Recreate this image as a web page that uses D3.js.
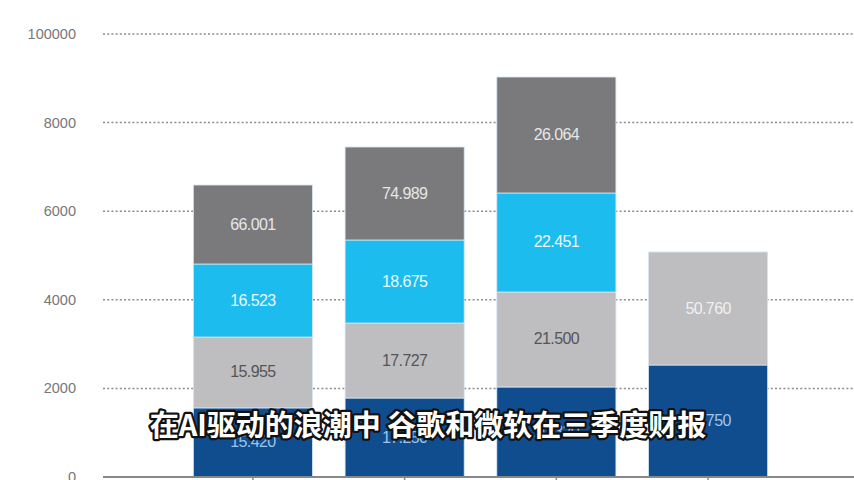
<!DOCTYPE html>
<html>
<head>
<meta charset="utf-8">
<script src="https://cdn.jsdelivr.net/npm/d3@7"></script>
<style>
  html, body { margin: 0; padding: 0; background: #fff; }
  svg { display: block; }
  .ylab { font-family: "Liberation Sans", Arial, sans-serif; font-size: 14.5px; fill: #777; }
  .seg-label { font-family: "Liberation Sans", Arial, sans-serif; font-size: 16px; letter-spacing: -0.6px; }
  .subtitle { font-family: "Noto Sans CJK SC", sans-serif; font-size: 29px; font-weight: 700;
              fill: #fff; stroke: #111; stroke-width: 4.5px; paint-order: stroke; stroke-linejoin: round; }
</style>
</head>
<body>
<svg width="854" height="480"></svg>
<script>
// Data
var categories = ["A", "B", "C", "D"];
var seriesNames = ["blue", "lightGray", "cyan", "darkGray"];
var blueVals      = [1560, 1783, 2032, 2528];
var lightGrayVals = [1600, 1693, 2144, 2551];
var cyanVals      = [1648, 1874, 2235, 0];
var darkGrayVals  = [1783, 2099, 2618, 0];

// labels printed inside the segments
var blueLabels      = ["15.420", "17.250", "20.320", "25.750"];
var lightGrayLabels = ["15.955", "17.727", "21.500", "50.760"];
var cyanLabels      = ["16.523", "18.675", "22.451", ""];
var darkGrayLabels  = ["66.001", "74.989", "26.064", ""];

var yTicks = [0, 2000, 4000, 6000, 8000, 10000];
var yTickLabels = ["0", "2000", "4000", "6000", "8000", "100000"];

var subtitle = "在AI驱动的浪潮中 谷歌和微软在三季度财报";

var svg = d3.select("svg");

var colors = {blue: "#0f4d8e", lightGray: "#bebec1", cyan: "#1cbcee", darkGray: "#7a7a7c"};
var textColors = {blue: "#9ec4ea", lightGray: "#555", cyan: "#eaf8ff", darkGray: "#e6e6e6"};

// scales
var x = d3.scaleBand().domain(categories).range([177, 784]).paddingInner(0.215).paddingOuter(0.1078);
var y = d3.scaleLinear().domain([0, 10000]).range([477, 34]);

// build table for stacking
var table = categories.map(function(c, i) {
    return {cat: c, blue: blueVals[i], lightGray: lightGrayVals[i], cyan: cyanVals[i], darkGray: darkGrayVals[i],
            labels: {blue: blueLabels[i], lightGray: lightGrayLabels[i], cyan: cyanLabels[i], darkGray: darkGrayLabels[i]}};
});
var stacked = d3.stack().keys(seriesNames)(table);

// dotted gridlines
svg.append("g").selectAll("line")
    .data(yTicks.slice(1))
    .enter().append("line")
    .attr("x1", 103).attr("x2", 854)
    .attr("y1", function(d) { return y(d); })
    .attr("y2", function(d) { return y(d); })
    .attr("stroke", "#8a8a8a")
    .attr("stroke-width", 1.5)
    .attr("stroke-dasharray", "2,2.2");

// y labels
svg.append("g").selectAll("text")
    .data(yTicks)
    .enter().append("text")
    .attr("class", "ylab")
    .attr("x", 76)
    .attr("y", function(d) { return y(d) + 5; })
    .attr("text-anchor", "end")
    .text(function(d, i) { return yTickLabels[i]; });

// bars
var layer = svg.append("g").selectAll("g")
    .data(stacked)
    .enter().append("g")
    .attr("fill", function(d) { return colors[d.key]; });

layer.selectAll("rect")
    .data(function(d) { return d.filter(function(p) { return p[1] > p[0]; }); })
    .enter().append("rect")
    .attr("x", function(d) { return x(d.data.cat); })
    .attr("y", function(d) { return y(d[1]); })
    .attr("width", x.bandwidth())
    .attr("height", function(d) { return y(d[0]) - y(d[1]); })
    .attr("stroke", "#d5e6f3")
    .attr("stroke-width", 0.8);

// segment labels
stacked.forEach(function(s) {
    svg.append("g").selectAll("text")
        .data(s.filter(function(p) { return p[1] > p[0]; }))
        .enter().append("text")
        .attr("class", "seg-label")
        .attr("x", function(d) { return x(d.data.cat) + x.bandwidth() / 2; })
        .attr("y", function(d) { return (y(d[0]) + y(d[1])) / 2 + 5; })
        .attr("text-anchor", "middle")
        .attr("fill", function(d) {
            if (s.key === "lightGray" && d.data.cat === "D") return "#f0f0f0";
            return textColors[s.key];
        })
        .text(function(d) { return d.data.labels[s.key]; });
});

// bottom axis
var xAxis = svg.append("g")
    .attr("transform", "translate(0," + y(0) + ")")
    .call(d3.axisBottom(x).tickSize(6).tickSizeOuter(0).tickFormat(""));
xAxis.select(".domain").remove();
xAxis.selectAll(".tick line").attr("stroke", "#888").attr("stroke-width", 1.5);
xAxis.append("line")
    .attr("x1", 103).attr("x2", 854)
    .attr("stroke", "#888").attr("stroke-width", 2);

// subtitle overlay
svg.append("text")
    .attr("class", "subtitle")
    .attr("x", 428)
    .attr("y", 436)
    .attr("text-anchor", "middle")
    .text(subtitle);
</script>
</body>
</html>
